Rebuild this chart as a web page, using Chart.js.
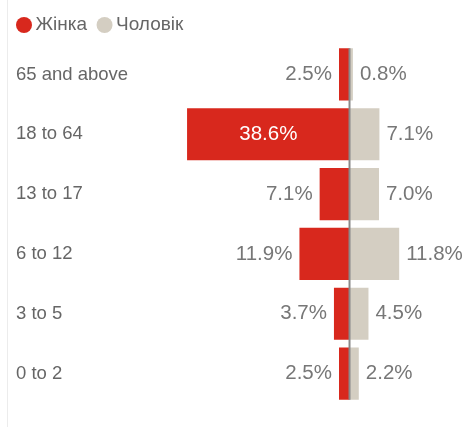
<!DOCTYPE html>
<html>
<head>
<meta charset="utf-8">
<script src="https://cdn.jsdelivr.net/npm/chart.js@4"></script>
<style>
  html, body { margin: 0; padding: 0; background: #fff; }
  #wrap { position: relative; width: 465px; height: 427px; }
  #wrap::before { content: ''; position: absolute; left: 7px; top: 0; bottom: 0; border-left: 1px solid #ececec; }
</style>
</head>
<body>
<div id="wrap"><canvas id="ageChart" width="465" height="427"></canvas></div>
<script>
const ageGroups = ['65 and above', '18 to 64', '13 to 17', '6 to 12', '3 to 5', '0 to 2'];
const female = [2.5, 38.6, 7.1, 11.9, 3.7, 2.5];
const male = [0.8, 7.1, 7.0, 11.8, 4.5, 2.2];

const fontFamily = '"Liberation Sans", Arial, sans-serif';
const labelFont = '20.5px ' + fontFamily;

// value labels at the end of each bar, big female bar gets its label inside
const barLabels = {
    id: 'barLabels',
    afterDatasetsDraw(chart) {
        const ctx = chart.ctx;
        ctx.save();
        ctx.font = labelFont;
        ctx.textBaseline = 'middle';
        chart.data.datasets.forEach((ds, i) => {
            chart.getDatasetMeta(i).data.forEach((bar, j) => {
                const v = Math.abs(ds.data[j]);
                const txt = v.toFixed(1) + '%';
                if (ds.data[j] < 0) {
                    if (v > 20) {
                        ctx.fillStyle = '#ffffff';
                        ctx.textAlign = 'center';
                        ctx.fillText(txt, (bar.x + bar.base) / 2, bar.y);
                    } else {
                        ctx.fillStyle = '#777777';
                        ctx.textAlign = 'right';
                        ctx.fillText(txt, bar.x - 7, bar.y);
                    }
                } else {
                    ctx.fillStyle = '#777777';
                    ctx.textAlign = 'left';
                    ctx.fillText(txt, bar.x + 7, bar.y);
                }
            });
        });
        ctx.restore();
    }
};

// gray divider along zero
const zeroLine = {
    id: 'zeroLine',
    afterDatasetsDraw(chart) {
        const bars = chart.getDatasetMeta(0).data;
        const first = bars[0], last = bars[bars.length - 1];
        const x = chart.scales.x.getPixelForValue(0);
        const ctx = chart.ctx;
        ctx.save();
        ctx.strokeStyle = '#8a8a8a';
        ctx.lineWidth = 2;
        ctx.beginPath();
        ctx.moveTo(x, first.y - first.height / 2);
        ctx.lineTo(x, last.y + last.height / 2);
        ctx.stroke();
        ctx.restore();
    }
};

new Chart(document.getElementById('ageChart'), {
    type: 'bar',
    data: {
        labels: ageGroups,
        datasets: [
            {
                label: 'Жінка',
                data: female.map(v => -v),
                backgroundColor: '#d8281d'
            },
            {
                label: 'Чоловік',
                data: male,
                backgroundColor: '#d4cec2'
            }
        ]
    },
    options: {
        indexAxis: 'y',
        responsive: false,
        animation: false,
        layout: { padding: { left: 6.5, right: 10, top: 0, bottom: 23.5 } },
        datasets: { bar: { barPercentage: 1, categoryPercentage: 0.872 } },
        scales: {
            x: {
                display: false,
                stacked: true,
                min: -81.5,
                max: 25.06
            },
            y: {
                stacked: true,
                grid: { display: false },
                border: { display: false },
                afterFit(axis) { axis.width = 0; },
                ticks: {
                    mirror: true,
                    padding: 9.5,
                    color: '#666666',
                    font: { family: fontFamily, size: 18.5 }
                }
            }
        },
        plugins: {
            legend: {
                align: 'start',
                labels: {
                    usePointStyle: true,
                    pointStyle: 'circle',
                    boxWidth: 4,
                    boxHeight: 11.3,
                    padding: 15.5,
                    color: '#666666',
                    font: { family: fontFamily, size: 19 }
                }
            },
            tooltip: { enabled: false }
        }
    },
    plugins: [barLabels, zeroLine]
});
</script>
</body>
</html>
